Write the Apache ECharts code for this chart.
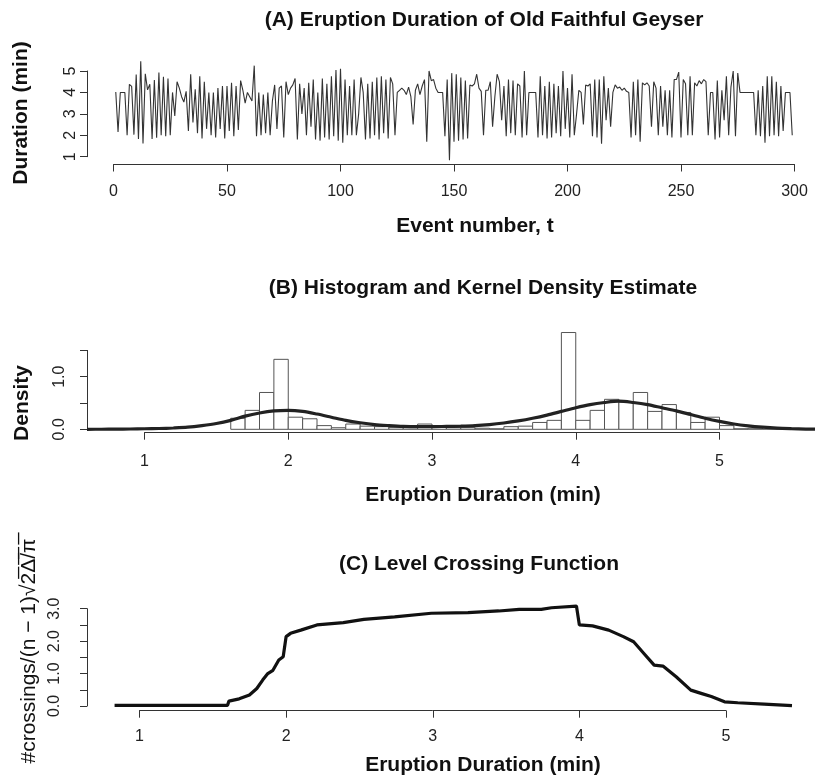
<!DOCTYPE html>
<html><head><meta charset="utf-8">
<script src="https://cdn.jsdelivr.net/npm/echarts@6/dist/echarts.min.js"></script>
<style>html,body{margin:0;padding:0;background:#fff}#c{width:815px;height:779px}</style>
</head><body><div id="c"></div>
<script>
// ---------------- DATA ----------------
// (A) eruption durations, events 1..299
const durations = [
4.02,2.15,4.0,4.0,4.0,2.0,4.38,4.28,2.03,4.83,
1.83,5.45,1.62,4.87,4.12,4.38,1.83,4.58,1.88,4.93,
2.0,4.73,1.95,4.65,2.0,4.0,2.9,4.5,4.2,3.8,
3.55,4.05,2.2,4.85,2.6,4.15,2.1,4.75,1.85,4.5,
2.3,4.0,2.0,4.0,1.9,4.2,2.3,4.3,1.85,4.3,
2.2,4.45,1.95,4.3,2.25,4.55,4.1,3.5,4.0,3.8,
3.6,5.25,1.95,4.0,2.0,3.9,2.1,4.0,2.0,3.6,
4.35,2.3,4.2,4.3,1.9,4.5,3.9,4.2,4.35,4.65,
1.8,4.4,3.0,4.2,2.0,4.45,2.4,4.6,1.8,4.0,
1.75,4.65,1.9,4.4,1.8,4.75,1.95,5.05,1.75,5.1,
1.65,4.6,2.0,4.3,2.0,4.6,2.0,3.0,4.7,4.0,
1.8,4.4,1.85,4.5,2.0,4.7,1.8,4.75,2.1,4.6,
1.85,4.7,4.4,2.0,4.0,4.1,4.2,4.1,3.9,4.25,
3.8,2.5,4.1,4.4,3.9,4.3,4.6,1.7,5.0,4.55,
4.6,4.2,4.0,4.0,4.0,1.95,4.6,0.83,4.9,1.7,
4.85,1.75,4.7,1.8,4.55,1.85,4.35,4.3,4.4,4.85,
4.2,4.05,2.0,4.1,4.1,4.5,2.4,3.8,4.85,4.5,
2.7,4.3,1.95,4.6,2.1,4.55,2.0,4.4,4.3,1.9,
5.0,2.0,4.0,4.0,4.0,4.0,1.9,4.75,2.0,4.3,
1.85,4.5,1.9,4.4,2.1,4.3,1.95,5.0,2.3,4.2,
1.9,4.85,2.0,3.0,4.1,4.0,2.5,4.35,4.3,4.4,
1.95,4.6,1.9,4.6,1.6,4.75,2.7,4.2,2.4,4.0,
4.35,4.2,4.25,4.1,4.2,4.05,4.0,1.9,4.5,2.0,
4.6,1.7,4.45,4.35,4.45,4.3,2.4,4.5,4.2,2.0,
4.3,2.4,4.1,2.0,4.1,1.9,4.6,4.6,4.95,1.9,
4.6,4.4,2.0,4.75,2.0,4.45,4.3,4.55,4.4,4.6,
4.5,2.0,4.0,4.0,1.8,4.55,1.9,4.1,2.7,4.75,
2.0,4.25,5.0,1.95,4.9,4.0,4.0,4.0,4.0,4.0,
4.0,4.0,2.0,4.1,1.95,4.3,1.65,4.75,1.95,4.75,
2.0,4.5,1.95,4.3,2.2,4.0,4.0,4.0,2.0
];
const eventTicks = [0, 50, 100, 150, 200, 250, 300];
const durationTicks = [1, 2, 3, 4, 5];

// (B) histogram (bin width 0.1) and kernel density estimate
const binWidth = 0.1;
const binLeft = [1.6,1.7,1.8,1.9,2.0,2.1,2.2,2.3,2.4,2.5,2.6,2.7,2.8,2.9,3.0,3.1,3.2,3.3,3.4,3.5,
                 3.6,3.7,3.8,3.9,4.0,4.1,4.2,4.3,4.4,4.5,4.6,4.7,4.8,4.9,5.0,5.1,5.2,5.3,5.4];
const binDensity = [0.21,0.36,0.70,1.33,0.23,0.20,0.07,0.03,0.10,0.06,0.05,0.03,0.03,0.10,0.04,0.03,0.03,0.02,0.01,0.05,
                    0.06,0.13,0.17,1.84,0.17,0.36,0.57,0.52,0.70,0.34,0.47,0.32,0.13,0.23,0.07,0.01,0.02,0.03,0.02];
const kdeX = [0.6,0.7,0.8,0.9,1.0,1.1,1.2,1.3,1.4,1.5,1.6,1.7,1.8,1.9,2.0,2.1,2.2,2.3,2.4,2.5,2.6,2.7,2.8,2.9,3.0,
              3.1,3.2,3.3,3.4,3.5,3.6,3.7,3.8,3.9,4.0,4.1,4.2,4.3,4.4,4.5,4.6,4.7,4.8,4.9,5.0,5.1,5.2,5.3,5.4,5.5,5.6,5.7];
const kdeY = [0.0,0.001,0.003,0.006,0.01,0.015,0.025,0.04,0.07,0.11,0.17,0.25,0.31,0.35,0.36,0.34,0.29,0.23,0.17,0.125,0.09,0.07,0.055,0.05,0.05,
              0.055,0.06,0.07,0.09,0.12,0.16,0.21,0.27,0.34,0.41,0.47,0.51,0.535,0.51,0.47,0.41,0.35,0.28,0.21,0.15,0.10,0.065,0.04,0.022,0.012,0.005,0.002];
const histXTicks = [1, 2, 3, 4, 5];
const densityTicks = [0, 0.5, 1.0, 1.5];

// (C) level crossing function
const lcX = [0.83,1.0,1.2,1.4,1.6,1.61,1.68,1.75,1.80,1.84,1.875,1.91,1.95,1.98,2.0,2.03,2.1,2.21,2.39,2.53,2.74,2.99,3.24,3.45,3.59,3.74,3.81,3.98,
             4.0,4.09,4.2,4.3,4.37,4.44,4.51,4.57,4.66,4.76,4.83,4.9,4.99,5.08,5.26,5.45];
const lcY = [0.02,0.02,0.02,0.02,0.02,0.15,0.22,0.34,0.54,0.80,1.0,1.1,1.42,1.52,2.14,2.24,2.34,2.5,2.57,2.67,2.75,2.86,2.88,2.93,2.98,2.98,3.03,3.08,
             2.5,2.47,2.34,2.14,1.98,1.62,1.26,1.23,0.9,0.49,0.39,0.29,0.13,0.1,0.06,0.01];
const lcXTicks = [1, 2, 3, 4, 5];
const lcYTicks = [0, 0.5, 1.0, 1.5, 2.0, 2.5, 3.0];

// ---------------- LAYOUT ----------------
const FONT = '"Liberation Sans", Arial, Helvetica, sans-serif';
const AX = '#333';
const TICK_FS = 16;
function lin(v0, p0, v1, p1, p) { return v0 + (p - p0) * (v1 - v0) / (p1 - p0); }
function pix(v0, p0, v1, p1, v) { return p0 + (v - v0) * (p1 - p0) / (v1 - v0); }

const panels = {
  A: { left: 87, right: 815, top: 57, bottom: 164.5,
       xCal: [0, 113.5, 300, 794.5], yCal: [1, 156.7, 5, 71],
       xTicks: eventTicks, yTicks: durationTicks, xMargin: 19, yMargin: 8,
       yFmt: v => String(v) },
  B: { left: 87, right: 815, top: 328, bottom: 432.7,
       xCal: [1, 144.5, 5, 719.5], yCal: [0, 429.3, 1, 376.7],
       xTicks: histXTicks, yTicks: densityTicks, xMargin: 21, yMargin: 19,
       yFmt: v => (Math.abs(v - Math.round(v)) < 1e-9 ? v.toFixed(1) : '') },
  C: { left: 87, right: 815, top: 601, bottom: 710.7,
       xCal: [1, 139.5, 5, 726], yCal: [0, 706, 3, 608.7],
       xTicks: lcXTicks, yTicks: lcYTicks, xMargin: 18, yMargin: 24,
       yFmt: v => (Math.abs(v - Math.round(v)) < 1e-9 ? v.toFixed(1) : '') }
};

const grid = [], xAxis = [], yAxis = [];
function hidden(gi, extra) {
  return Object.assign({ type: 'value', gridIndex: gi, show: false, splitLine: { show: false } }, extra || {});
}
function axisStyle() {
  return { axisLine: { show: true, onZero: false, lineStyle: { color: AX, width: 1 } },
           axisTick: { show: true, length: 7, lineStyle: { color: AX, width: 1 } },
           splitLine: { show: false } };
}
function addPanel(p) {
  const xc = p.xCal, yc = p.yCal;
  const gi = grid.length;
  grid.push({ left: p.left, top: p.top, width: p.right - p.left, height: p.bottom - p.top });
  const xi = xAxis.length;
  xAxis.push(hidden(gi, { min: lin(xc[0], xc[1], xc[2], xc[3], p.left), max: lin(xc[0], xc[1], xc[2], xc[3], p.right) }));
  const yi = yAxis.length;
  yAxis.push(hidden(gi, { min: lin(yc[0], yc[1], yc[2], yc[3], p.bottom), max: lin(yc[0], yc[1], yc[2], yc[3], p.top) }));

  const xt0 = p.xTicks[0], xt1 = p.xTicks[p.xTicks.length - 1];
  const px0 = pix(xc[0], xc[1], xc[2], xc[3], xt0), px1 = pix(xc[0], xc[1], xc[2], xc[3], xt1);
  const gx = grid.length;
  grid.push({ left: px0, top: p.bottom - 1, width: px1 - px0, height: 1 });
  xAxis.push(Object.assign({ type: 'value', gridIndex: gx, position: 'bottom', min: xt0, max: xt1,
    interval: p.xTicks[1] - p.xTicks[0],
    axisLabel: { margin: p.xMargin, fontSize: TICK_FS, color: '#222', fontFamily: FONT } }, axisStyle()));
  yAxis.push(hidden(gx));

  const yt0 = p.yTicks[0], yt1 = p.yTicks[p.yTicks.length - 1];
  const py0 = pix(yc[0], yc[1], yc[2], yc[3], yt0), py1 = pix(yc[0], yc[1], yc[2], yc[3], yt1);
  const gy = grid.length;
  grid.push({ left: p.left, top: py1, width: 1, height: py0 - py1 });
  xAxis.push(hidden(gy));
  yAxis.push(Object.assign({ type: 'value', gridIndex: gy, position: 'left', min: yt0, max: yt1,
    interval: p.yTicks[1] - p.yTicks[0],
    axisLabel: { rotate: 90, margin: p.yMargin, fontSize: TICK_FS, color: '#222', fontFamily: FONT, formatter: p.yFmt } }, axisStyle()));
  return { xi, yi };
}
const aIdx = addPanel(panels.A);
const bIdx = addPanel(panels.B);
const cIdx = addPanel(panels.C);

const series = [
  { type: 'line', xAxisIndex: aIdx.xi, yAxisIndex: aIdx.yi, symbol: 'none', animation: false,
    lineStyle: { color: '#333', width: 1.1 },
    data: durations.map((d, i) => [i + 1, d]) },
  { type: 'custom', xAxisIndex: bIdx.xi, yAxisIndex: bIdx.yi, animation: false,
    encode: { x: [0, 1], y: 2 },
    data: binLeft.map((l, i) => [l, l + binWidth, binDensity[i]]),
    renderItem: function (params, api) {
      const p0 = api.coord([api.value(0), api.value(2)]);
      const p1 = api.coord([api.value(1), 0]);
      return { type: 'rect', shape: { x: p0[0], y: p0[1], width: p1[0] - p0[0], height: p1[1] - p0[1] },
               style: { fill: '#fff', stroke: '#555', lineWidth: 1 } };
    } },
  { type: 'line', xAxisIndex: bIdx.xi, yAxisIndex: bIdx.yi, symbol: 'none', animation: false, smooth: 0.3, z: 5,
    lineStyle: { color: '#222', width: 3.2 },
    data: kdeX.map((x, i) => [x, kdeY[i]]) },
  { type: 'line', xAxisIndex: cIdx.xi, yAxisIndex: cIdx.yi, symbol: 'none', animation: false,
    lineStyle: { color: '#111', width: 3.2 },
    data: lcX.map((x, i) => [x, lcY[i]]) }
];

function txt(text, x, y, opts) {
  opts = opts || {};
  return { type: 'text', x: x, y: y, rotation: opts.rot || 0, z: 10,
    style: { text: text, font: (opts.bold === false ? '' : 'bold ') + (opts.size || 21) + 'px ' + FONT,
             fill: '#111', textAlign: 'center', textVerticalAlign: 'middle', align: 'center', verticalAlign: 'middle' } };
}
const graphic = [
  txt('(A) Eruption Duration of Old Faithful Geyser', 484, 20),
  txt('Event number, t', 475, 226),
  txt('Duration (min)', 21, 113, { rot: Math.PI / 2 }),
  txt('(B) Histogram and Kernel Density Estimate', 483, 288),
  txt('Eruption Duration (min)', 483, 495),
  txt('Density', 22, 403, { rot: Math.PI / 2 }),
  txt('(C) Level Crossing Function', 479, 564),
  txt('Eruption Duration (min)', 483, 765),
  txt('#crossings/(n \u2212 1)\u221A2\u0305\u0394\u0305/\u0305\u03C0\u0305', 29, 651, { rot: Math.PI / 2, bold: false })
];

const chart = echarts.init(document.getElementById('c'), null, { renderer: 'canvas', width: 815, height: 779 });
chart.setOption({ animation: false, backgroundColor: '#fff', grid, xAxis, yAxis, series, graphic });
</script>
</body></html>
